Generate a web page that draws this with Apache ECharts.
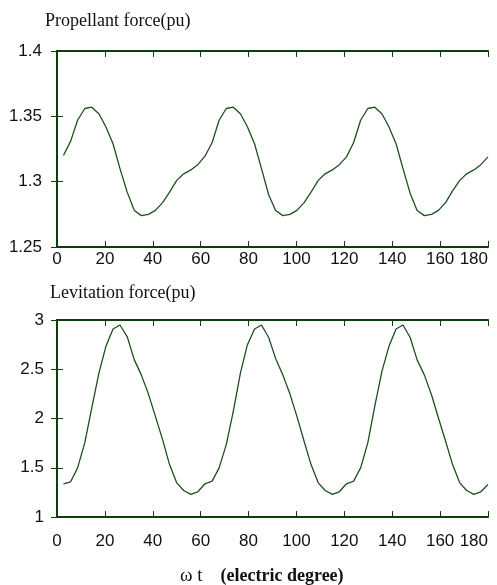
<!DOCTYPE html>
<html>
<head>
<meta charset="utf-8">
<script src="https://cdn.jsdelivr.net/npm/echarts@6/dist/echarts.min.js"></script>
<style>
  html, body { margin: 0; padding: 0; background: #fff; }
  #chart { width: 497px; height: 585px; }
</style>
</head>
<body>
<div id="chart"></div>
<script>
// electric angle of each sample (degree)
var angle = [2.7, 5.7, 8.6, 11.6, 14.5, 17.5, 20.4, 23.4, 26.3, 29.3,
  32.3, 35.2, 38.2, 41.1, 44.1, 47.0, 50.0, 52.9, 55.9, 58.8,
  61.8, 64.8, 67.7, 70.7, 73.6, 76.6, 79.5, 82.5, 85.4, 88.4,
  91.3, 94.3, 97.3, 100.2, 103.2, 106.1, 109.1, 112.0, 115.0, 117.9,
  120.9, 123.9, 126.8, 129.8, 132.7, 135.7, 138.6, 141.6, 144.5, 147.5,
  150.4, 153.4, 156.4, 159.3, 162.3, 165.2, 168.2, 171.1, 174.1, 177.0, 180.0];

// propellant force (pu)
var propellant = [1.320, 1.331, 1.347, 1.356, 1.357, 1.352, 1.342, 1.329, 1.310, 1.292,
  1.278, 1.274, 1.275, 1.278, 1.284, 1.292, 1.301, 1.306, 1.309, 1.313,
  1.3195, 1.330, 1.347, 1.356, 1.357, 1.352, 1.342, 1.329, 1.310, 1.290,
  1.278, 1.274, 1.275, 1.278, 1.284, 1.292, 1.301, 1.306, 1.309, 1.313,
  1.319, 1.330, 1.347, 1.356, 1.357, 1.352, 1.342, 1.329, 1.310, 1.291,
  1.278, 1.274, 1.275, 1.278, 1.284, 1.293, 1.301, 1.306, 1.309, 1.313, 1.319];

// levitation force (pu)
var levitation = [1.337, 1.357, 1.499, 1.752, 2.106, 2.460, 2.730, 2.909, 2.949, 2.832,
  2.595, 2.443, 2.248, 2.022, 1.785, 1.532, 1.347, 1.269, 1.229, 1.256,
  1.337, 1.364, 1.499, 1.735, 2.070, 2.460, 2.747, 2.909, 2.949, 2.822,
  2.610, 2.443, 2.248, 2.022, 1.769, 1.532, 1.347, 1.269, 1.229, 1.256,
  1.337, 1.364, 1.499, 1.752, 2.123, 2.478, 2.730, 2.909, 2.949, 2.822,
  2.595, 2.443, 2.241, 2.005, 1.769, 1.532, 1.347, 1.269, 1.229, 1.256, 1.330];

var xTicks = [0, 20, 40, 60, 80, 100, 120, 140, 160, 180];
var yTicksTop = [1.25, 1.3, 1.35, 1.4];
var yTicksBottom = [1, 1.5, 2, 2.5, 3];

var frameColor = '#0c3f0c';
var lineColor = '#1f4f1f';

function pairs(xs, ys) {
  var out = [];
  for (var i = 0; i < xs.length; i++) out.push([xs[i], ys[i]]);
  return out;
}

function xAxes(gridIndex, labelMargin) {
  return [{
    type: 'value', gridIndex: gridIndex, position: 'bottom',
    min: xTicks[0], max: xTicks[xTicks.length - 1], interval: 20,
    axisLine: { lineStyle: { color: frameColor, width: 2 } },
    axisTick: { inside: true, length: 6, lineStyle: { color: frameColor, width: 1 } },
    axisLabel: { margin: labelMargin, color: '#111', fontFamily: 'Liberation Sans, Arial', fontSize: 17, alignMaxLabel: 'right' },
    splitLine: { show: false }
  }, {
    type: 'value', gridIndex: gridIndex, position: 'top',
    min: xTicks[0], max: xTicks[xTicks.length - 1], interval: 20,
    axisLine: { lineStyle: { color: frameColor, width: 2 } },
    axisTick: { inside: true, length: 6, lineStyle: { color: frameColor, width: 1 } },
    axisLabel: { show: false },
    splitLine: { show: false }
  }];
}

function yAxes(gridIndex, ticks, labelMargin) {
  var step = ticks[1] - ticks[0];
  return [{
    type: 'value', gridIndex: gridIndex, position: 'left',
    min: ticks[0], max: ticks[ticks.length - 1], interval: step,
    axisLine: { show: true, lineStyle: { color: frameColor, width: 2 } },
    axisTick: { show: true, inside: true, length: 6, lineStyle: { color: frameColor, width: 1 } },
    axisLabel: {
      margin: labelMargin, color: '#111', fontFamily: 'Liberation Sans, Arial', fontSize: 17,
      formatter: function (v) { return String(+v.toFixed(2)); }
    },
    splitLine: { show: false }
  }, {
    type: 'value', gridIndex: gridIndex, position: 'right',
    min: ticks[0], max: ticks[ticks.length - 1], interval: step,
    axisLine: { show: true, lineStyle: { color: frameColor, width: 2 } },
    axisTick: { show: true, inside: true, length: 6, lineStyle: { color: frameColor, width: 1 } },
    axisLabel: { show: false },
    splitLine: { show: false }
  }];
}

var chart = echarts.init(document.getElementById('chart'));

var option = {
  backgroundColor: '#ffffff',
  animation: false,
  grid: [
    { left: 57, right: 9, top: 51, height: 196 },
    { left: 57, right: 9, top: 320, height: 197 }
  ],
  xAxis: xAxes(0, 4).concat(xAxes(1, 16)),
  yAxis: yAxes(0, yTicksTop, 15).concat(yAxes(1, yTicksBottom, 13)),
  graphic: [
    {
      type: 'text', left: 45, top: 12,
      style: { text: 'Propellant force(pu)', fill: '#111', font: '18px "Liberation Serif", "Times New Roman", serif' }
    },
    {
      type: 'text', left: 50, top: 284,
      style: { text: 'Levitation force(pu)', fill: '#111', font: '18px "Liberation Serif", "Times New Roman", serif' }
    },
    {
      type: 'text', left: 180, top: 567,
      style: {
        text: '{w|ω t}{b|    (electric degree)}',
        rich: {
          w: { fill: '#111', font: '19px "Liberation Serif", "Times New Roman", serif' },
          b: { fill: '#111', font: 'bold 18px "Liberation Serif", "Times New Roman", serif' }
        }
      }
    }
  ],
  series: [
    {
      name: 'Propellant force', type: 'line', xAxisIndex: 0, yAxisIndex: 0,
      data: pairs(angle, propellant), symbol: 'none',
      lineStyle: { color: lineColor, width: 1.3 }
    },
    {
      name: 'Levitation force', type: 'line', xAxisIndex: 2, yAxisIndex: 2,
      data: pairs(angle, levitation), symbol: 'none',
      lineStyle: { color: lineColor, width: 1.3 }
    }
  ]
};

chart.setOption(option);
</script>
</body>
</html>
